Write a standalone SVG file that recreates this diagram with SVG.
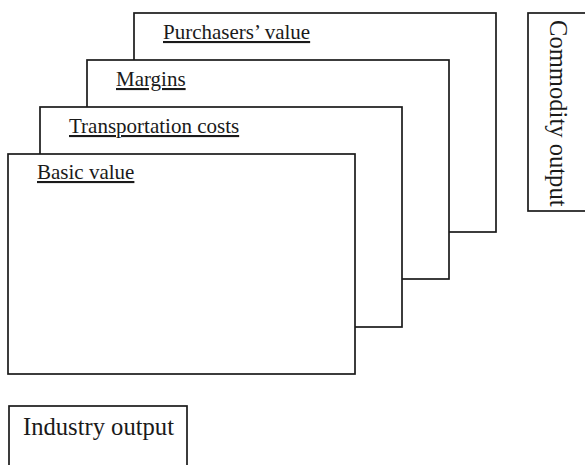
<svg xmlns="http://www.w3.org/2000/svg" width="585" height="465" viewBox="0 0 585 465">
<style>
.box{fill:#fff;stroke:#1a1a1a;stroke-width:1.7}
.lbl{font-family:"Liberation Serif","Times New Roman",serif;font-size:21px;fill:#1a1a1a;text-decoration:underline}
.big{font-family:"Liberation Serif","Times New Roman",serif;font-size:24.6px;fill:#1a1a1a}
</style>
<rect width="585" height="465" fill="#fff"/>
<g id="purchasers-value">
<rect class="box" x="134" y="13" width="362" height="219"/>
<text class="lbl" x="163" y="39">Purchasers’ value</text>
</g>
<g id="margins">
<rect class="box" x="87" y="60" width="362" height="219"/>
<text class="lbl" x="116" y="86">Margins</text>
</g>
<g id="transportation-costs">
<rect class="box" x="40" y="107" width="362" height="220"/>
<text class="lbl" x="69" y="133">Transportation costs</text>
</g>
<g id="basic-value">
<rect class="box" x="8" y="154" width="347" height="220"/>
<text class="lbl" x="37" y="179">Basic value</text>
</g>
<g id="commodity-output">
<rect class="box" x="528" y="13" width="70" height="198"/>
<text class="big" transform="translate(550,20) rotate(90)" x="0" y="0">Commodity output</text>
</g>
<g id="industry-output">
<rect class="box" x="9" y="406" width="178" height="70"/>
<text class="big" x="23" y="435">Industry output</text>
</g>
<g id="connectors"/>
</svg>
